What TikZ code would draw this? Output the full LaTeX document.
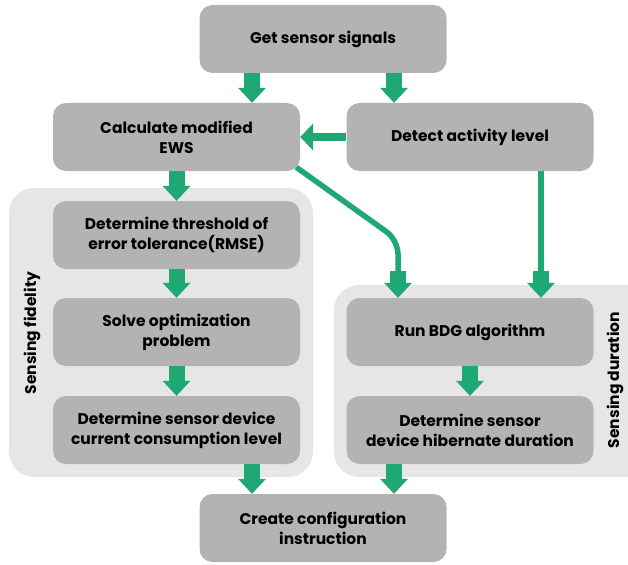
\documentclass[tikz,border=0pt]{standalone}
\usepackage{fontspec}
\setmainfont{Poppins}
\usetikzlibrary{arrows.meta,calc}
\definecolor{flowgreen}{HTML}{1FA774}
\definecolor{boxgray}{HTML}{B3B3B3}
\definecolor{groupgray}{HTML}{E6E6E6}
\pgfdeclarelayer{back}
\pgfsetlayers{back,main}

\begin{document}
\begin{tikzpicture}[x=1pt,y=-1pt,
  box/.style={fill=boxgray, rounded corners=13pt, minimum width=247pt,
    minimum height=68pt, align=center, inner sep=2pt,
    font=\bfseries\fontsize{15.5}{20}\selectfont},
  group/.style={fill=groupgray, rounded corners=25pt},
  grouplabel/.style={rotate=90, inner sep=0pt,
    font=\bfseries\fontsize{15.5}{16}\selectfont},
  blockarrow/.style={draw=flowgreen, line width=16pt,
    -{Triangle[width=28pt,length=15pt,line width=0pt]}},
  sidearrow/.style={draw=flowgreen, line width=8pt,
    -{Triangle[width=27pt,length=13pt,line width=0pt]}},
  feeder/.style={draw=flowgreen, line width=5.5pt},
]
\useasboundingbox (0,0) rectangle (628,564);

% grouping panels
\begin{pgfonlayer}{back}
  \fill[group] (9,188) rectangle (313,477);
  \begin{scope}
    \clip (0,0) rectangle (628,564);
    \fill[group] (334,285) rectangle (660,477);
  \end{scope}
\end{pgfonlayer}

% process steps
\node[box] (get)    at (323,39)    {Get sensor signals};
\node[box] (calc)   at (176.5,137) {Calculate modified\\EWS};
\node[box] (detect) at (470,137)   {Detect activity level};
\node[box] (thr)    at (176.5,235) {Determine threshold of\\error tolerance(RMSE)};
\node[box] (solve)  at (176.5,332) {Solve optimization\\problem};
\node[box] (cur)    at (176.5,430) {Determine sensor device\\current consumption level};
\node[box] (bdg)    at (470,332)   {Run BDG algorithm};
\node[box] (hib)    at (470,430)   {Determine sensor\\device hibernate duration};
\node[box] (create) at (323,528)   {Create configuration\\instruction};

% panel titles
\node[grouplabel] (fidlabel) at (32,333)  {Sensing fidelity};
\node[grouplabel] (durlabel) at (615,380) {Sensing duration};

% block arrows between steps
\draw[blockarrow] ([xshift=-71pt]get.south) -- ([xshift=75.5pt]calc.north);
\draw[blockarrow] ([xshift=71pt]get.south) -- ([xshift=-76pt]detect.north);
\draw[blockarrow] (calc.south) -- (thr.north);
\draw[blockarrow] (thr.south) -- (solve.north);
\draw[blockarrow] (solve.south) -- (cur.north);
\draw[blockarrow] (bdg.south) -- (hib.north);
\draw[blockarrow] ([xshift=75.5pt]cur.south) -- ([xshift=-71pt]create.north);
\draw[blockarrow] ([xshift=-76pt]hib.south) -- ([xshift=71pt]create.north);
\draw[sidearrow] (detect.west) -- (calc.east);

% thin feeders into the BDG step
\coordinate (bendA) at (398,240);
\coordinate (stubA) at (398,271);
\coordinate (stubB) at (541,271);
\begin{pgfonlayer}{back}
  \draw[feeder, rounded corners=14pt] ([shift={(-4,-4)}]calc.south east)
    -- (bendA) -- ([yshift=-1pt]stubA);
\end{pgfonlayer}
\draw[feeder] (detect.south -| stubB) -- ([yshift=-1pt]stubB);
\draw[blockarrow] (stubA) -- (stubA |- bdg.north);
\draw[blockarrow] (stubB) -- (stubB |- bdg.north);
\end{tikzpicture}
\end{document}
